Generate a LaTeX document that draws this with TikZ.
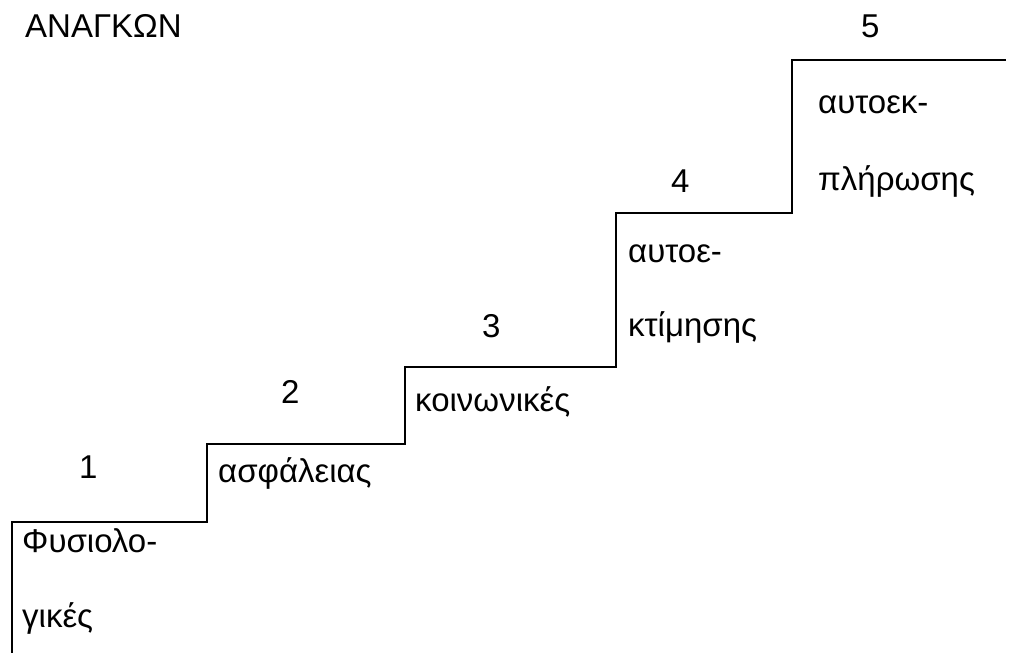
\documentclass[tikz,border=0pt]{standalone}
\usepackage{fontspec}
\setmainfont{Liberation Sans}
\begin{document}
\begin{tikzpicture}[x=1pt,y=-1pt,
  lbl/.style={anchor=base west,inner sep=0pt,font=\fontsize{33}{36}\selectfont},
  stair/.style={line width=2.8pt,line cap=butt,line join=miter}]
\useasboundingbox (0,0) rectangle (1020,653);
\coordinate (s0) at (12,653);
\coordinate (s1) at (12,522);
\coordinate (s2) at (207,522);
\coordinate (s3) at (207,444);
\coordinate (s4) at (405,444);
\coordinate (s5) at (405,367);
\coordinate (s6) at (616,367);
\coordinate (s7) at (616,213);
\coordinate (s8) at (792,213);
\coordinate (s9) at (792,60);
\coordinate (s10) at (1006,60);
\draw[stair] (s0) -- (s1) -- (s2) -- (s3) -- (s4) -- (s5) -- (s6) -- (s7) -- (s8) -- (s9) -- (s10);
\node[lbl] (title) at (25,37) {ΑΝΑΓΚΩΝ};
\node[lbl] (n1) at (79,478) {1};
\node[lbl] (n2) at (281,403) {2};
\node[lbl] (n3) at (482,337) {3};
\node[lbl] (n4) at (671,192) {4};
\node[lbl] (n5) at (861,37) {5};
\node[lbl] (t1a) at (22,552) {Φυσιολο-};
\node[lbl] (t1b) at (22,627) {γικές};
\node[lbl] (t2) at (218,482) {ασφάλειας};
\node[lbl] (t3) at (415,411) {κοινωνικές};
\node[lbl] (t4a) at (628,262) {αυτοε-};
\node[lbl] (t4b) at (628,336) {κτίμησης};
\node[lbl] (t5a) at (818,113) {αυτοεκ-};
\node[lbl] (t5b) at (818,190) {πλήρωσης};
\end{tikzpicture}
\end{document}
